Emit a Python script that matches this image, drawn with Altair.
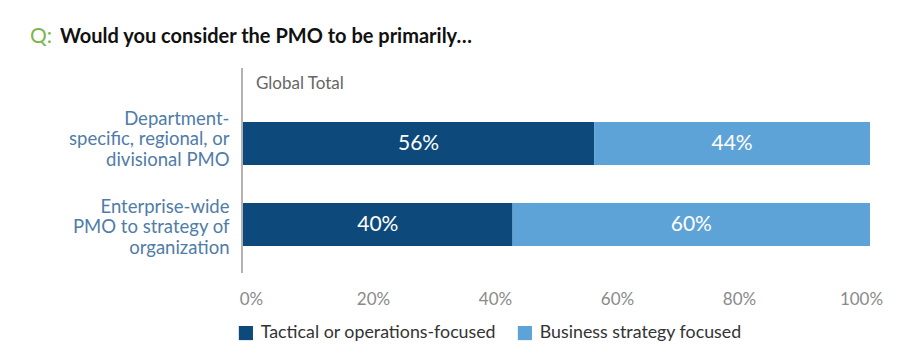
import altair as alt
import pandas as pd

categories = ["Department-|specific, regional, or|divisional PMO",
              "Enterprise-wide|PMO to strategy of|organization"]
series = ["Tactical or operations-focused", "Business strategy focused"]
tactical = [56, 43]
business = [44, 57]
labels_tactical = ["56%", "40%"]
labels_business = ["44%", "60%"]
tick_values = [0, 20, 40, 60, 80, 100]

rows = []
for i, c in enumerate(categories):
    start = 0
    for s, vals, labs in [(series[0], tactical, labels_tactical), (series[1], business, labels_business)]:
        v = vals[i]
        rows.append({"cat": c, "series": s, "start": start, "end": start + v,
                     "mid": start + v / 2, "label": labs[i]})
        start += v
df = pd.DataFrame(rows)

FONT = "Lato"
dark = "#0d4a7b"
light = "#5ea3d7"

y_enc = alt.Y("cat:N", sort=categories, title=None,
              scale=alt.Scale(range=[40, 202], paddingInner=0.47, paddingOuter=0.235),
              axis=alt.Axis(labelExpr="split(datum.value, '|')", labelFont=FONT,
                            labelFontSize=18.5, labelColor="#4f7ca8", labelLineHeight=20.5,
                            labelOffset=alt.ExprRef("indexof(datum.value, 'Enterprise') >= 0 ? -18 : -25"),
                            labelPadding=14, ticks=False, domain=False,
                            labelLimit=300))

bars = alt.Chart(df).mark_bar().encode(
    x=alt.X("start:Q", scale=alt.Scale(domain=[0, 100]), title=None,
            axis=alt.Axis(values=tick_values, labelExpr="datum.value + '%'", domain=False,
                          ticks=False, grid=False, labelFont=FONT, labelFontSize=17,
                          labelColor="#8a8a8a", labelPadding=18, labelFlush=False,
                          labelOffset=alt.ExprRef("8 - datum.value * 0.17"))),
    x2="end:Q",
    y=y_enc,
    color=alt.Color("series:N", sort=series,
                    scale=alt.Scale(domain=series, range=[dark, light]),
                    legend=alt.Legend(title=None, orient="none", direction="horizontal",
                                      legendX=-6, legendY=261, symbolType="square",
                                      symbolSize=200, symbolStrokeWidth=0, symbolOpacity=1,
                                      labelFont=FONT, labelFontSize=17.8, labelColor="#333333",
                                      columnPadding=20, labelOffset=6, padding=0,
                                      labelLimit=400)),
)

text = alt.Chart(df).mark_text(color="white", font=FONT, fontSize=21).encode(
    x="mid:Q", y=alt.Y("cat:N", sort=categories), text="label:N")

axis_line = alt.Chart(pd.DataFrame({"a": [0]})).mark_rule(color="#9a9a9a", strokeWidth=1.5).encode(
    x=alt.value(-1), y=alt.value(5), y2=alt.value(210))

title_df = pd.DataFrame({"t": ["Would you consider the PMO to be primarily\u2026"]})
q_df = pd.DataFrame({"t": ["Q:"]})
gt_df = pd.DataFrame({"t": ["Global Total"]})

title = alt.Chart(title_df).mark_text(align="left", baseline="alphabetic", font=FONT,
                                      fontSize=20, fontWeight="bold", color="#111111").encode(
    x=alt.value(-183), y=alt.value(-20), text="t:N")
q = alt.Chart(q_df).mark_text(align="left", baseline="alphabetic", font=FONT,
                              fontSize=21, color="#7ab648").encode(
    x=alt.value(-213), y=alt.value(-20), text="t:N")
gt = alt.Chart(gt_df).mark_text(align="left", baseline="middle", font=FONT,
                                fontSize=17, color="#666666").encode(
    x=alt.value(13), y=alt.value(21), text="t:N")

chart = alt.layer(bars, text, axis_line, title, q, gt).properties(
    width=627, height=210,
    background="white",
    autosize=alt.AutoSizeParams(type="none"),
    padding={"left": 235, "top": 55, "right": 40, "bottom": 80},
).configure_view(stroke=None)

chart.save("out.html", embed_options={"renderer": "svg", "actions": False})
